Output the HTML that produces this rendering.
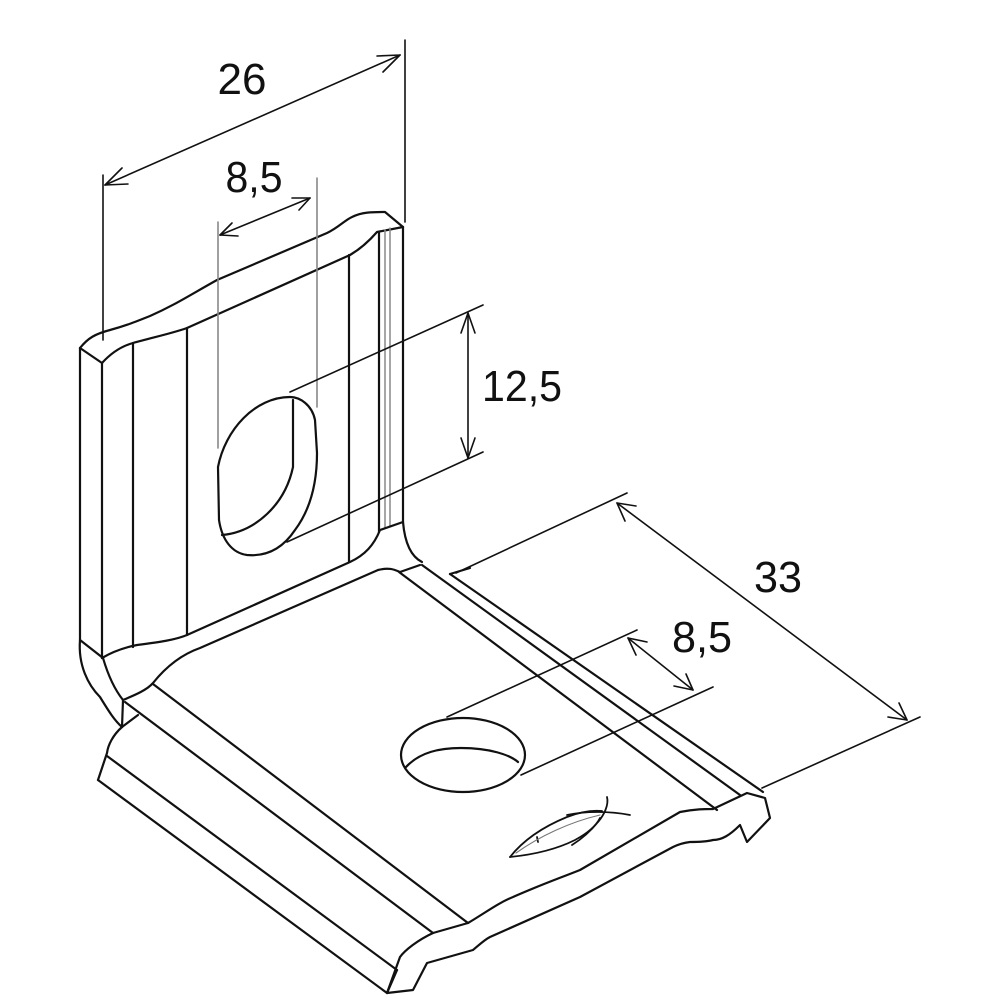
<!DOCTYPE html>
<html><head><meta charset="utf-8"><style>
html,body{margin:0;padding:0;background:#fff;}
svg{display:block}
text{font-family:"Liberation Sans Narrow","Liberation Sans",sans-serif;fill:#111;}
</style></head><body>
<svg width="1000" height="1000" viewBox="0 0 1000 1000" xmlns="http://www.w3.org/2000/svg">
<g fill="none" stroke="#111" stroke-width="2.2" stroke-linejoin="round" stroke-linecap="round">
<!-- vertical plate -->
<path d="M80,348 L102,363"/>
<path d="M80,348 C88,338 95,334 110,330 C125,326 135,322 150,316 C175,305 190,295 217,280 L327,233 C338,228 345,220 352,217 C362,212 372,212 385,212 L403,227"/>
<path d="M102,363 C112,352 122,346 133,343 C150,338 170,334 187,328 L350,255 C362,248 370,240 377,232 L403,227"/>
<path d="M80,348 L80,640"/>
<path d="M102,363 L102,658"/>
<path d="M133,343 L133,647"/>
<path d="M187,328 L187,635"/>
<path d="M349,255 L349,562"/>
<path d="M379,232 L379,532"/>
<path d="M385,230 L385,528" stroke="#888" stroke-width="1.5"/>
<path d="M390,228 L390,526" stroke="#888" stroke-width="1.5"/>
<path d="M403,227 L403,522"/>
<path d="M102,658 C112,652 122,648 137,645 C160,642 175,640 187,635 L350,562 C365,555 374,545 380,530 L403,522"/>
<!-- bend -->
<path d="M80,640 C78,665 88,685 100,697 C108,710 114,720 122,727"/>
<path d="M80,640 L103,658"/>
<path d="M103,658 C108,675 115,690 123,700"/>
<path d="M123,700 L122,727"/>
<path d="M123,700 C135,695 147,690 153,683 C165,668 180,655 200,648 L378,570 C390,567 395,570 400,572 L420,565"/>
<path d="M403,522 C405,545 412,557 422,562"/>
<path d="M122,727 L138,715"/>
<!-- horizontal plate -->
<path d="M153,684 L468,923"/>
<path d="M125,702 L433,933"/>
<path d="M399,572 L717,810"/>
<path d="M422,565 L740,795"/>
<path d="M450,574 L763,792"/>
<path d="M450,574 L470,568"/>
<!-- lip -->
<path d="M122,727 C113,735 108,745 107,753 L98,780"/>
<path d="M107,756 L397,970"/>
<path d="M98,780 L387,993"/>
<!-- front edge -->
<path d="M433,933 L468,923 C485,913 498,903 513,897 C540,885 560,878 580,870 L680,812 C695,809 705,809 713,809 L747,793 L765,798 L770,818 L747,842 L740,825 C730,835 722,840 713,840 C705,842 697,842 690,842 C682,843 677,845 673,847 L580,897 C540,915 510,928 490,937 C484,940 478,946 473,950 L427,963 L413,990 L387,993 L397,970"/>
<path d="M433,933 C418,940 405,950 400,957 L387,993"/>
<!-- upper hole -->
<path d="M290,397 C255,397 225,430 218,467 L219,520 C222,540 232,553 247,555 C270,557 285,545 295,530 C310,510 317,485 317,453 L315,420 C312,405 300,397 290,397 Z"/>
<path d="M293,400 L293,467 C285,505 255,532 222,535"/>
<!-- lower hole -->
<ellipse cx="463" cy="755" rx="62" ry="37"/>
<path d="M406,767 C420,752 440,748 461,748 C490,748 510,755 518,762"/>
<!-- fish -->
<g stroke-width="1.8">
<path d="M510,857 C525,838 545,826 567,817 C580,812 592,810 602,811"/>
<path d="M510,857 C530,855 555,850 575,840 C588,833 596,826 600,818"/>
<path d="M607,797 C609,805 604,815 598,822 C590,832 580,840 572,845"/>
<path d="M567,815 C585,811 610,811 630,815"/>
<path d="M537,837 L538,842"/>
<path d="M516,853 C540,836 570,822 600,815" stroke="#777" stroke-width="1.1"/>
</g>
<!-- dimensions -->
<g stroke-width="1.6">
<path d="M103,175 L103,340"/>
<path d="M405,40 L405,222"/>
<path d="M105,185 L400,55"/>
<path d="M105,185 L122,168 M105,185 L128,184"/>
<path d="M400,55 L377,56 M400,55 L383,72"/>
<path d="M218,222 L218,448" stroke="#888"/>
<path d="M317,178 L317,407" stroke="#888"/>
<path d="M220,235 L310,198"/>
<path d="M220,235 L232,223 M220,235 L238,236"/>
<path d="M310,198 L292,198 M310,198 L299,210"/>
<path d="M290,392 L483,305"/>
<path d="M287,542 L483,452"/>
<path d="M468,313 L468,458"/>
<path d="M468,313 L461,333 M468,313 L475,333"/>
<path d="M468,458 L461,438 M468,458 L475,438"/>
<path d="M456,573 L627,493"/>
<path d="M762,788 L920,717"/>
<path d="M617,503 L907,720"/>
<path d="M617,503 L636,506 M617,503 L625,521"/>
<path d="M907,720 L888,717 M907,720 L899,703"/>
<path d="M447,717 L637,630"/>
<path d="M521,775 L713,687"/>
<path d="M628,638 L693,690"/>
<path d="M628,638 L647,642 M628,638 L636,655"/>
<path d="M693,690 L674,686 M693,690 L686,674"/>
</g>
</g>
<text x="242" y="94" font-size="44" font-weight="500" text-anchor="middle" textLength="49" lengthAdjust="spacingAndGlyphs">26</text>
<text x="254" y="192" font-size="44" font-weight="500" text-anchor="middle" textLength="57" lengthAdjust="spacingAndGlyphs">8,5</text>
<text x="522" y="401" font-size="44" font-weight="500" text-anchor="middle" textLength="80" lengthAdjust="spacingAndGlyphs">12,5</text>
<text x="778" y="592" font-size="44" font-weight="500" text-anchor="middle" textLength="48" lengthAdjust="spacingAndGlyphs">33</text>
<text x="702" y="652" font-size="44" font-weight="500" text-anchor="middle" textLength="60" lengthAdjust="spacingAndGlyphs">8,5</text>
</svg>
</body></html>
